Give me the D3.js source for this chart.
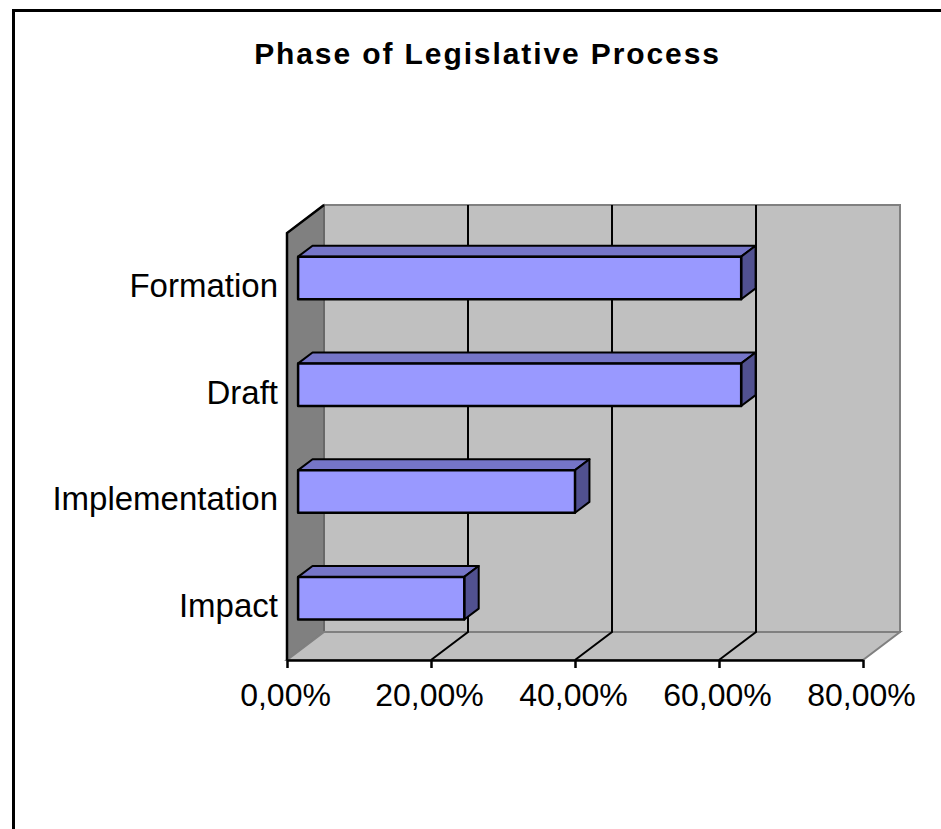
<!DOCTYPE html>
<html>
<head>
<meta charset="utf-8">
<script src="https://cdn.jsdelivr.net/npm/d3@7"></script>
<style>
  html, body { margin: 0; padding: 0; background: #fff; }
  svg { display: block; }
  text { font-family: "Liberation Sans", Arial, sans-serif; fill: #000; }
</style>
</head>
<body>
<script>
// ---- data ----
const title = "Phase of Legislative Process";
const categories = ["Formation", "Draft", "Implementation", "Impact"];
const values = [0.6154, 0.6154, 0.3846, 0.2308];
const tickValues = [0, 0.2, 0.4, 0.6, 0.8];

// ---- layout ----
const W = 941, H = 829;
const DX = 37, DY = 28;          // 3D depth offset
const z0 = 0.30, z1 = 0.69;      // bar depth range

const svg = d3.select("body").append("svg").attr("width", W).attr("height", H);

const x = d3.scaleLinear().domain([0, 0.8]).range([287, 863]);
const y = d3.scaleBand().domain(categories).range([233, 660])
  .paddingInner(0.6).paddingOuter(0.3);

const P = (px, py, z) => [px + z * DX, py - z * DY];
const poly = pts => "M" + pts.map(p => p.join(",")).join("L") + "Z";

// outer frame
svg.append("rect").attr("x", 13.5).attr("y", 10.5).attr("width", W + 20).attr("height", H + 20)
  .attr("fill", "none").attr("stroke", "#000").attr("stroke-width", 3);

// title
svg.append("text").attr("x", 487.5).attr("y", 64).attr("text-anchor", "middle")
  .style("font-size", "30px").style("font-weight", "bold").style("letter-spacing", "1.9px")
  .text(title);

const x0 = x.range()[0], x1 = x.range()[1];
const yT = y.range()[0], yB = y.range()[1];

// back wall
svg.append("path").attr("d", poly([P(x0, yT, 1), P(x1, yT, 1), P(x1, yB, 1), P(x0, yB, 1)]))
  .attr("fill", "#C0C0C0").attr("stroke", "#808080").attr("stroke-width", 2);
// left wall
svg.append("path").attr("d", poly([P(x0, yT, 0), P(x0, yT, 1), P(x0, yB, 1), P(x0, yB, 0)]))
  .attr("fill", "#808080").attr("stroke", "#606060").attr("stroke-width", 1.5);
// floor
svg.append("path").attr("d", poly([P(x0, yB, 0), P(x1, yB, 0), P(x1, yB, 1), P(x0, yB, 1)]))
  .attr("fill", "#C0C0C0").attr("stroke", "#808080").attr("stroke-width", 2);

// left wall black edges (front vertical + top diagonal)
svg.append("path").attr("d", "M" + P(x0, yB, 0).join(",") + "L" + P(x0, yT, 0).join(",") + "L" + P(x0, yT, 1).join(","))
  .attr("fill", "none").attr("stroke", "#000").attr("stroke-width", 2.5);

// gridlines on back wall + floor
const grid = svg.append("g");
tickValues.slice(1, -1).forEach(t => {
  const xt = x(t);
  grid.append("path")
    .attr("d", "M" + P(xt, yT, 1).join(",") + "L" + P(xt, yB, 1).join(",") + "L" + P(xt, yB, 0).join(","))
    .attr("fill", "none").attr("stroke", "#000").attr("stroke-width", 2);
});

// x axis (front floor edge)
const fmt = d3.formatLocale({ decimal: ",", thousands: ".", grouping: [3], currency: ["", "€"] }).format(".2%");
const xAxis = svg.append("g").attr("transform", `translate(0,${yB})`)
  .call(d3.axisBottom(x).tickValues(tickValues).tickFormat(fmt).tickSizeInner(8).tickSizeOuter(0).tickPadding(15));
xAxis.select(".domain").attr("stroke", "#000").attr("stroke-width", 2.5);
xAxis.selectAll(".tick line").attr("stroke", "#000").attr("stroke-width", 2.5);
xAxis.selectAll(".tick text").attr("x", -2).style("font-size", "32px")
  .style("font-family", '"Liberation Sans", Arial, sans-serif').attr("fill", "#000");

// category axis
const yAxis = svg.append("g").attr("transform", `translate(${x0},0)`)
  .call(d3.axisLeft(y).tickSize(0).tickPadding(9));
yAxis.select(".domain").remove();
yAxis.selectAll(".tick text").style("font-size", "33px")
  .style("font-family", '"Liberation Sans", Arial, sans-serif').attr("fill", "#000");

// bars
const bars = svg.append("g").selectAll("g").data(categories).join("g");
bars.each(function (c, i) {
  const g = d3.select(this);
  const v = values[i];
  const yt = y(c), yb = y(c) + y.bandwidth();
  const xa = x(0), xb = x(v);
  // top face
  g.append("path").attr("d", poly([P(xa, yt, z0), P(xb, yt, z0), P(xb, yt, z1), P(xa, yt, z1)]))
    .attr("fill", "#7575C8").attr("stroke", "#000").attr("stroke-width", 2).attr("stroke-linejoin", "round");
  // side face
  g.append("path").attr("d", poly([P(xb, yt, z0), P(xb, yt, z1), P(xb, yb, z1), P(xb, yb, z0)]))
    .attr("fill", "#515190").attr("stroke", "#000").attr("stroke-width", 2).attr("stroke-linejoin", "round");
  // front face
  g.append("path").attr("d", poly([P(xa, yt, z0), P(xb, yt, z0), P(xb, yb, z0), P(xa, yb, z0)]))
    .attr("fill", "#9999FF").attr("stroke", "#000").attr("stroke-width", 2.5).attr("stroke-linejoin", "round");
});
</script>
</body>
</html>
